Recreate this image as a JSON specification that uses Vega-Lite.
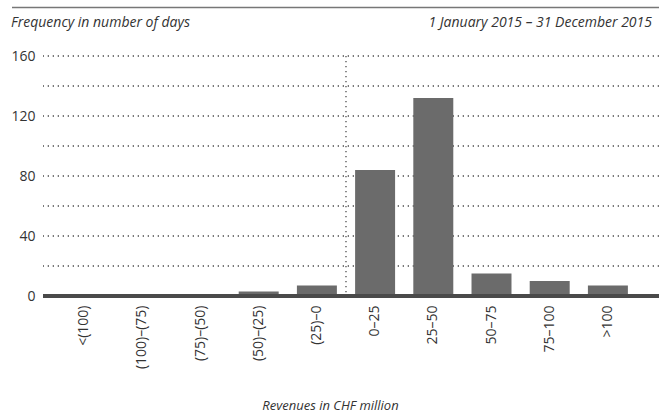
{
  "$schema": "https://vega.github.io/schema/vega-lite/v6.json",
  "autosize": {"type": "none"},
  "width": 616,
  "height": 240,
  "padding": {"left": 43, "top": 56, "right": 0, "bottom": 121},
  "background": "white",
  "config": {
    "font": "Open Sans",
    "view": {"stroke": null}
  },
  "datasets": {
    "bins": [
      {"range": "<(100)", "days": 1},
      {"range": "(100)–(75)", "days": 1},
      {"range": "(75)–(50)", "days": 1},
      {"range": "(50)–(25)", "days": 3},
      {"range": "(25)–0", "days": 7},
      {"range": "0–25", "days": 84},
      {"range": "25–50", "days": 132},
      {"range": "50–75", "days": 15},
      {"range": "75–100", "days": 10},
      {"range": ">100", "days": 7}
    ],
    "grid": [
      {"g": 20}, {"g": 40}, {"g": 60}, {"g": 80}, {"g": 100}, {"g": 120}, {"g": 140}, {"g": 160}
    ]
  },
  "layer": [
    {
      "data": {"name": "grid"},
      "mark": {"type": "rule", "color": "#4d4d4d", "strokeDash": [1.3, 3.7], "strokeWidth": 1.3},
      "encoding": {
        "y": {"field": "g", "type": "quantitative"}
      }
    },
    {
      "data": {"name": "bins"},
      "mark": {"type": "bar", "color": "#6b6b6b"},
      "encoding": {
        "x": {
          "field": "range",
          "type": "nominal",
          "sort": null,
          "scale": {
            "domain": ["<(100)", "(100)–(75)", "(75)–(50)", "(50)–(25)", "(25)–0", "0–25", "25–50", "50–75", "75–100", ">100"],
            "range": [12, 594],
            "paddingInner": 0.313,
            "paddingOuter": 0.1565
          },
          "axis": {
            "title": "Revenues in CHF million",
            "titleFontStyle": "italic",
            "titleFontWeight": "normal",
            "titleFontSize": 13,
            "titleColor": "#333333",
            "titlePadding": 31,
            "titleX": 287,
            "labelAngle": -90,
            "labelPadding": 9,
            "labelFontSize": 14,
            "labelColor": "#333333",
            "domain": false,
            "ticks": false
          }
        },
        "y": {
          "field": "days",
          "type": "quantitative",
          "scale": {"domain": [0, 160], "nice": false},
          "axis": {
            "title": null,
            "values": [0, 40, 80, 120, 160],
            "grid": false,
            "domain": false,
            "ticks": false,
            "labelPadding": 8,
            "labelFontSize": 14,
            "labelColor": "#333333"
          }
        }
      }
    },
    {
      "data": {"values": [{"range": "(25)–0", "top": 160, "bottom": 0}]},
      "mark": {"type": "rule", "color": "#4d4d4d", "strokeDash": [1.3, 3.7], "strokeWidth": 1.3},
      "encoding": {
        "x": {"field": "range", "type": "nominal", "bandPosition": 1.2275},
        "y": {"field": "top", "type": "quantitative"},
        "y2": {"field": "bottom"}
      }
    },
    {
      "data": {"values": [{"base": 0}]},
      "mark": {"type": "rule", "color": "#4a4a4a", "strokeWidth": 4},
      "encoding": {
        "y": {"field": "base", "type": "quantitative"}
      }
    },
    {
      "data": {"values": [{"t": "Frequency in number of days"}]},
      "mark": {"type": "text", "align": "left", "baseline": "alphabetic", "fontSize": 14, "fontStyle": "italic", "color": "#333333", "font": "Open Sans"},
      "encoding": {
        "text": {"field": "t"},
        "x": {"value": -32},
        "y": {"value": -29}
      }
    },
    {
      "data": {"values": [{"t": "1 January 2015 – 31 December 2015"}]},
      "mark": {"type": "text", "align": "right", "baseline": "alphabetic", "fontSize": 14, "fontStyle": "italic", "color": "#333333", "font": "Open Sans"},
      "encoding": {
        "text": {"field": "t"},
        "x": {"value": 609},
        "y": {"value": -29}
      }
    },
    {
      "data": {"values": [{"k": 1}]},
      "mark": {"type": "rule", "color": "#777777", "strokeWidth": 1.5},
      "encoding": {
        "x": {"value": -31},
        "x2": {"value": 616},
        "y": {"value": -48.5}
      }
    }
  ]
}
